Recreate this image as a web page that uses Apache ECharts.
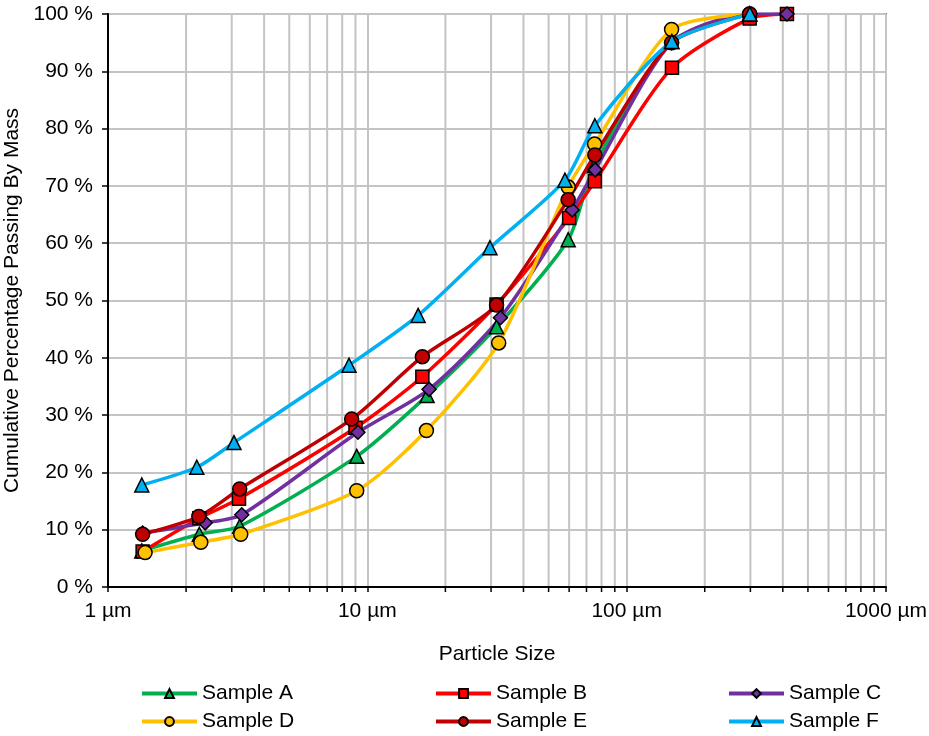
<!DOCTYPE html>
<html>
<head>
<meta charset="utf-8">
<script src="https://cdn.jsdelivr.net/npm/echarts@6/dist/echarts.min.js"></script>
<style>html,body{margin:0;padding:0;background:#fff;}#c{width:929px;height:736px;}</style>
</head>
<body>
<div id="c"></div>
<script>
// Particle sizes (µm) and cumulative % passing for each sample
var sampleA = [[1.35,6.3],[2.25,9.2],[3.22,10.6],[9.1,22.8],[17.0,33.4],[31.5,45.4],[59.5,60.6],[75,73.5],[149,95.2],[298,100]];
var sampleB = [[1.36,6.2],[2.25,12.0],[3.2,15.4],[9.0,27.8],[16.3,36.7],[31.5,49.3],[60.0,64.4],[75.4,70.8],[149.5,90.6],[298,99.2],[415,100]];
var sampleC = [[1.36,9.4],[2.37,11.2],[3.28,12.6],[9.2,27.0],[17.3,34.5],[32.6,47.0],[61.6,65.8],[75.6,72.8],[149,95.0],[298,100],[415,100]];
var sampleD = [[1.39,6.0],[2.28,7.8],[3.25,9.2],[9.1,16.8],[16.9,27.3],[32.1,42.6],[59.5,69.8],[75.2,77.3],[149,97.3],[298,100]];
var sampleE = [[1.36,9.2],[2.24,12.3],[3.22,17.1],[8.7,29.3],[16.3,40.2],[31.5,49.2],[59.5,67.6],[75.4,75.4],[149,95.0],[298,100]];
var sampleF = [[1.35,17.8],[2.2,20.9],[3.06,25.2],[8.5,38.7],[15.7,47.4],[29.7,59.2],[57.8,71.0],[75.4,80.5],[149.4,95.2],[298.5,100]];

var seriesNames = ['Sample A','Sample B','Sample C','Sample D','Sample E','Sample F'];
var seriesColors = ['#00b050','#ff0000','#7030a0','#ffc000','#c00000','#00b0f0'];
var seriesSymbols = ['triangle','rect','diamond','circle','circle','triangle'];
var seriesData = [sampleA,sampleB,sampleC,sampleD,sampleE,sampleF];

var xMajorTicks = [1,10,100,1000];
var xMinorTicks = [2,3,4,5,6,7,8,9,20,30,40,50,60,70,80,90,200,300,400,500,600,700,800,900];
var xTickLabels = {1:'1 µm',10:'10 µm',100:'100 µm',1000:'1000 µm'};

var FONT = 'Liberation Sans, Arial, sans-serif';
var FS = 21;

var symbolSizes = {triangle:14, rect:13, diamond:14, circle:14};

var series = [{
  name: 'minor',
  type: 'custom',
  z: 1,
  silent: true,
  data: xMinorTicks.map(function(v){return [v];}),
  renderItem: function(params, api){
    var v = api.value(0);
    var p0 = api.coord([v, 0]);
    var p1 = api.coord([v, 100]);
    return {
      type: 'group',
      children: [
        {type:'line', shape:{x1:p0[0],y1:p0[1],x2:p1[0],y2:p1[1]}, style:{stroke:'#c4c4c4', lineWidth:2}},
        {type:'line', shape:{x1:p0[0],y1:p0[1],x2:p0[0],y2:p0[1]+5}, style:{stroke:'#000', lineWidth:1.5}}
      ]
    };
  }
}];

seriesNames.forEach(function(n, i){
  series.push({
    name: n,
    type: 'line',
    z: 3,
    smooth: 0.25,
    data: seriesData[i],
    symbol: seriesSymbols[i],
    symbolSize: symbolSizes[seriesSymbols[i]],
    lineStyle: {color: seriesColors[i], width: 3.5},
    itemStyle: {color: seriesColors[i], borderColor: '#000', borderWidth: 1.5},
    emphasis: {disabled: true}
  });
});

function legendCol(names, left){
  return {
    orient: 'vertical',
    left: left,
    top: 683,
    itemWidth: 55,
    itemHeight: 11,
    itemGap: 7,
    data: names,
    lineStyle: {width: 4},
    textStyle: {fontFamily: FONT, fontSize: FS, color: '#000', padding:[0,0,0,0]},
    padding: 0
  };
}

var option = {
  animation: false,
  backgroundColor: '#fff',
  grid: {left: 108, right: 43, top: 14, bottom: 149, show: true, borderColor: '#000', borderWidth: 1.5, containLabel: false, outerBoundsMode: 'none'},
  legend: [
    legendCol(['Sample A','Sample D'], 140),
    legendCol(['Sample B','Sample E'], 434),
    legendCol(['Sample C','Sample F'], 727)
  ],
  xAxis: {
    type: 'log',
    logBase: 10,
    min: 1,
    max: 1000,
    z: 2,
    name: 'Particle Size',
    nameLocation: 'middle',
    nameGap: 57,
    nameTextStyle: {fontFamily: FONT, fontSize: FS, color: '#000'},
    axisLine: {lineStyle: {color: '#000', width: 2}},
    axisTick: {show: true, length: 5, lineStyle: {color: '#000', width: 1.5}},
    axisLabel: {
      fontFamily: FONT, fontSize: FS, color: '#000', margin: 14,
      formatter: function(v){ return xTickLabels[Math.round(v)] || ''; }
    },
    splitLine: {show: true, lineStyle: {color: '#c4c4c4', width: 2}},
    minorTick: {show: false}
  },
  yAxis: {
    type: 'value',
    min: 0,
    max: 100,
    interval: 10,
    z: 2,
    name: 'Cumulative Percentage Passing By Mass',
    nameLocation: 'middle',
    nameGap: 82,
    nameTextStyle: {fontFamily: FONT, fontSize: FS, color: '#000'},
    axisLine: {show: true, lineStyle: {color: '#000', width: 2}},
    axisTick: {show: true, length: 6, lineStyle: {color: '#000', width: 1.5}},
    axisLabel: {fontFamily: FONT, fontSize: FS, color: '#000', margin: 15, formatter: '{value} %'},
    splitLine: {show: true, lineStyle: {color: '#c4c4c4', width: 2}}
  },
  series: series
};

var chart = echarts.init(document.getElementById('c'), null, {renderer: 'canvas'});
chart.setOption(option);
</script>
</body>
</html>
